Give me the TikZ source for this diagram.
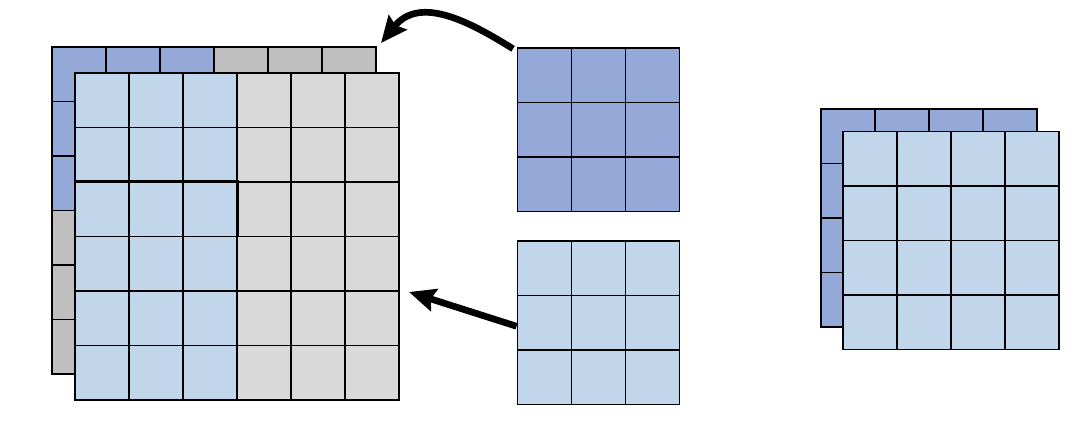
\documentclass[tikz,border=0pt]{standalone}
\usetikzlibrary{arrows.meta}

\definecolor{kdark}{RGB}{148,169,216}
\definecolor{klight}{RGB}{194,214,235}
\definecolor{gback}{RGB}{191,191,191}
\definecolor{gfront}{RGB}{217,217,217}

\begin{document}
\begin{tikzpicture}[
	x=0.02cm, y=-0.02cm,
	cell/.style={
		rectangle,
		draw=black,
		line width=1.1pt,
		inner sep=0pt,
		minimum width=1.08cm,
		minimum height=1.09cm
	},
	flow/.style={
		line width=3.8pt,
		-{Stealth[length=15pt, width=13pt, inset=2pt]}
	}
	]
	\useasboundingbox (0,0) rectangle (1084,432);

	% input, back channel
	\foreach \i in {0,...,5}{
		\foreach \j in {0,...,5}{
			\ifnum\i<3 \ifnum\j<3 \def\c{kdark}\else\def\c{gback}\fi\else\def\c{gback}\fi
			\node[cell, fill=\c] (b-\i-\j) at ({52+54*(\i+0.5)}, {47+54.5*(\j+0.5)}) {};
		}
	}

	% input, front channel
	\foreach \i in {0,...,5}{
		\foreach \j in {0,...,5}{
			\ifnum\i<3 \def\c{klight}\else\def\c{gfront}\fi
			\node[cell, fill=\c] (f-\i-\j) at ({75+54*(\i+0.5)}, {73+54.5*(\j+0.5)}) {};
		}
	}
	\draw[line width=1.6pt] (f-0-2.north west) -- (f-2-2.north east) -- (f-2-2.south east);

	% kernels
	\foreach \i in {0,1,2}{
		\foreach \j in {0,1,2}{
			\node[cell, fill=kdark] (kA-\i-\j) at ({517.5+54*(\i+0.5)}, {48+54.5*(\j+0.5)}) {};
			\node[cell, fill=klight] (kB-\i-\j) at ({517.5+54*(\i+0.5)}, {241+54.5*(\j+0.5)}) {};
		}
	}

	% output
	\foreach \i in {0,...,3}{
		\foreach \j in {0,...,3}{
			\node[cell, fill=kdark] (ob-\i-\j) at ({821+54*(\i+0.5)}, {109+54.5*(\j+0.5)}) {};
		}
	}
	\foreach \i in {0,...,3}{
		\foreach \j in {0,...,3}{
			\node[cell, fill=klight] (of-\i-\j) at ({843+54*(\i+0.5)}, {131.5+54.5*(\j+0.5)}) {};
		}
	}

	\coordinate (tipA) at (381,43);
	\coordinate (tipB) at (409,292);
	\draw[flow] ([xshift=-2pt, yshift=-1pt]kA-0-0.north west) .. controls (470,22) and (420,-5) .. (tipA);
	\draw[flow] ([yshift=-2pt]kB-0-1.west) -- (tipB);
\end{tikzpicture}
\end{document}
